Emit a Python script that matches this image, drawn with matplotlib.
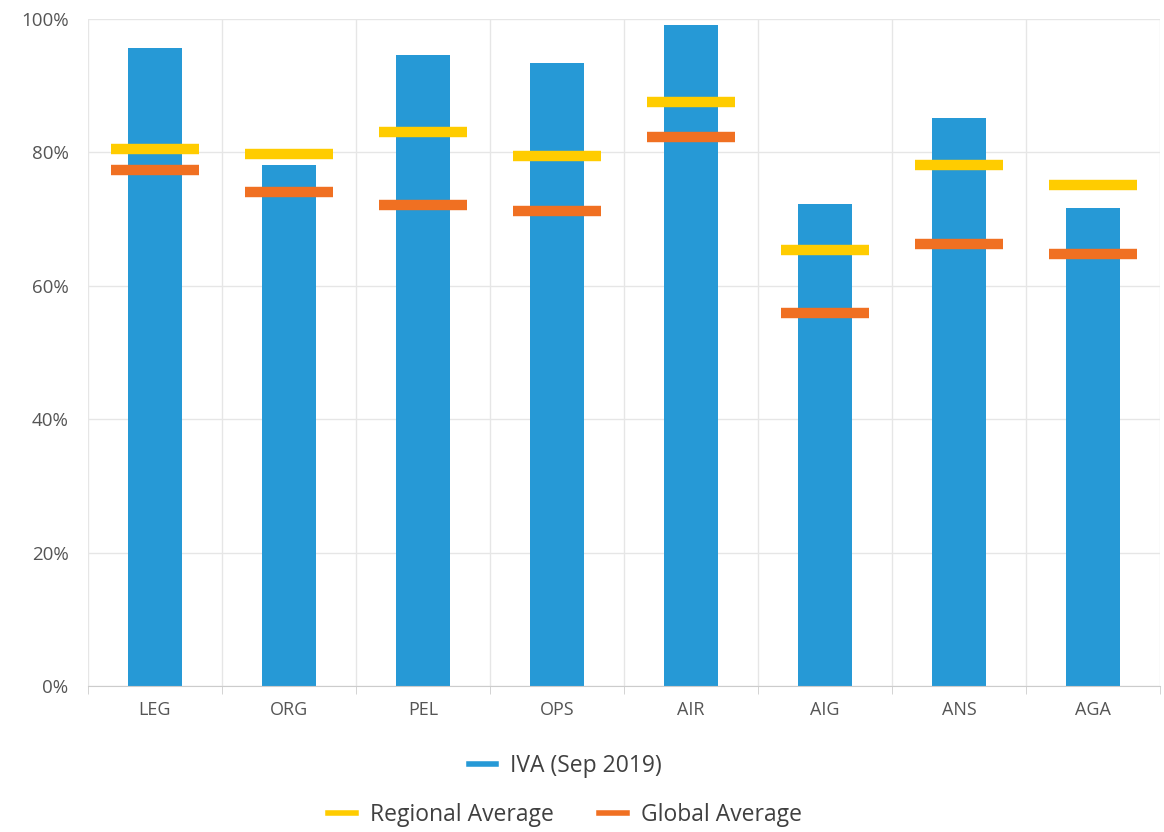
import matplotlib

matplotlib.use("Agg")
import matplotlib.pyplot as plt
from matplotlib.lines import Line2D
from matplotlib.ticker import PercentFormatter
import numpy as np

categories = ["LEG", "ORG", "PEL", "OPS", "AIR", "AIG", "ANS", "AGA"]
iva = [95.6, 78.1, 94.6, 93.4, 99.1, 72.3, 85.2, 71.7]
regional_avg = [80.5, 79.8, 83.1, 79.5, 87.6, 65.4, 78.1, 75.1]
global_avg = [77.4, 74.1, 72.1, 71.2, 82.3, 55.9, 66.3, 64.8]

BLUE = "#2699d6"
YELLOW = "#ffcc00"
ORANGE = "#f07022"
TEXT = "#555555"

plt.rcParams["font.family"] = ["Open Sans", "DejaVu Sans"]

fig = plt.figure(figsize=(11.64, 8.32), dpi=100)
ax = fig.add_axes([88 / 1164, 1 - 686 / 832, (1160 - 88) / 1164, (686 - 19) / 832])

x = np.arange(len(categories))
ax.bar(x, iva, width=0.405, color=BLUE, zorder=2)
ax.hlines(regional_avg, x - 0.33, x + 0.33, color=YELLOW, linewidth=7.5, zorder=3)
ax.hlines(global_avg, x - 0.33, x + 0.33, color=ORANGE, linewidth=7.5, zorder=3)

ax.set_xlim(-0.5, len(categories) - 0.5)
ax.set_ylim(0, 100)
ax.set_yticks(range(0, 101, 20))
ax.yaxis.set_major_formatter(PercentFormatter(decimals=0))
ax.set_xticks(x)
ax.set_xticklabels(categories)
ax.set_xticks(np.arange(-0.5, len(categories)), minor=True)

ax.grid(axis="y", color="#e6e6e6", linewidth=1, zorder=0)
ax.grid(axis="x", which="minor", color="#e6e6e6", linewidth=1, zorder=0)
for side in ["top", "right", "left"]:
    ax.spines[side].set_visible(False)
ax.spines["bottom"].set_color("#cccccc")
ax.tick_params(axis="x", which="major", length=0, pad=11, labelsize=13, labelcolor=TEXT)
ax.tick_params(axis="x", which="minor", length=6, color="#cccccc")
ax.tick_params(axis="y", length=0, pad=14, labelsize=13.5, labelcolor=TEXT)

h_iva = Line2D([], [], color=BLUE, linewidth=4)
h_reg = Line2D([], [], color=YELLOW, linewidth=4)
h_glob = Line2D([], [], color=ORANGE, linewidth=4)

leg_kw = dict(frameon=False, fontsize=16.5, labelcolor="#404040", handlelength=1.2,
              handletextpad=0.6, columnspacing=2.0)
fig.legend([h_iva], ["IVA (Sep 2019)"], loc="center",
           bbox_to_anchor=(565 / 1164, 1 - 766 / 832), **leg_kw)
fig.legend([h_reg, h_glob], ["Regional Average", "Global Average"], loc="center",
           ncol=2, bbox_to_anchor=(565 / 1164, 1 - 815 / 832), **leg_kw)

fig.savefig("out.png", dpi=100)
